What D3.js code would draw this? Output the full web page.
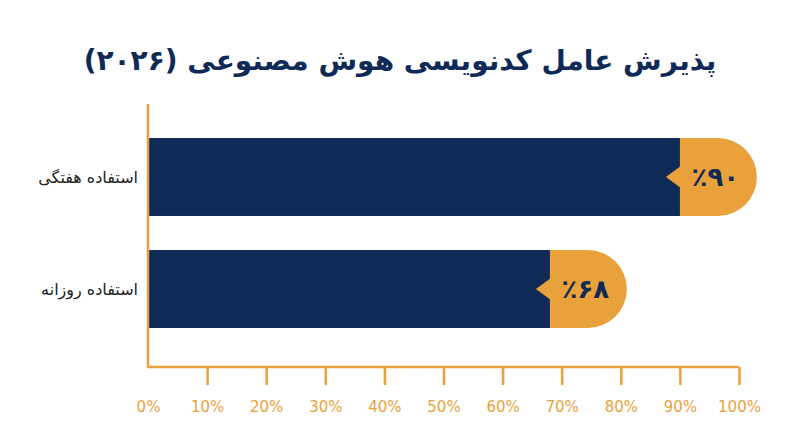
<!DOCTYPE html>
<html><head><meta charset="utf-8">
<script src="https://cdn.jsdelivr.net/npm/d3@7"></script>
<style>body{margin:0;background:#fff}svg{display:block}</style>
</head><body><svg width="800" height="447"></svg>
<script>
const title = "پذیرش عامل کدنویسی هوش مصنوعی (۲۰۲۶)";
const categories = ["استفاده هفتگی", "استفاده روزانه"];
const values = [90, 68];
const valueLabels = ["٪۹۰", "٪۶۸"];
const ticks = [0,10,20,30,40,50,60,70,80,90,100];
const navy = "#0f2a56", orange = "#e9a23b";
const font = "'DejaVu Sans', 'Noto Sans', sans-serif";
const svg = d3.select("svg");
const x = d3.scaleLinear().domain([0,100]).range([148,739]);
const y = d3.scaleBand().domain(categories).range([104.4,361.6]).paddingInner(0.304).paddingOuter(0.3);
svg.append("text").attr("x",400).attr("y",70).attr("text-anchor","middle")
  .attr("font-family",font).attr("font-weight","bold").attr("font-size",28).attr("fill",navy).text(title);
const capW = 77;
categories.forEach((c,i)=>{
  const y0 = y(c), h = y.bandwidth(), xe = x(values[i]), r = h/2;
  svg.append("path").attr("fill",orange)
    .attr("d",`M${xe-5},${y0}H${xe+capW-r}A${r},${r} 0 0 1 ${xe+capW-r},${y0+h}H${xe-5}Z`);
  svg.append("rect").attr("x",x(0)).attr("y",y0).attr("width",xe-x(0)).attr("height",h).attr("fill",navy);
  svg.append("path").attr("fill",orange)
    .attr("d",`M${xe+1},${y0+r-11}L${xe-14},${y0+r}L${xe+1},${y0+r+11}Z`);
  svg.append("text").attr("x",xe+capW/2-3).attr("y",y0+r).attr("dy","0.36em").attr("text-anchor","middle")
    .attr("font-family",font).attr("font-weight","bold").attr("font-size",26).attr("fill",navy).text(valueLabels[i]);
  svg.append("text").attr("x",138).attr("y",y0+r).attr("dy","0.35em").attr("text-anchor","end")
    .attr("font-family",font).attr("font-size",16).attr("fill","#222").text(c);
});
const ax = svg.append("g").attr("transform","translate(0,367)")
  .call(d3.axisBottom(x).tickValues(ticks).tickSize(18).tickPadding(16).tickFormat(d=>d+"%"));
ax.select(".domain").remove();
ax.selectAll("line").attr("stroke",orange).attr("stroke-width",2.5);
ax.selectAll("line").filter(d=>d===0).remove();
ax.selectAll("text").attr("font-family",font).attr("font-size",15).attr("fill",orange);
svg.append("path").attr("fill","none").attr("stroke",orange).attr("stroke-width",2.5)
  .attr("d",`M${x(0)},104V367H${x(100)}`);
</script></body></html>
